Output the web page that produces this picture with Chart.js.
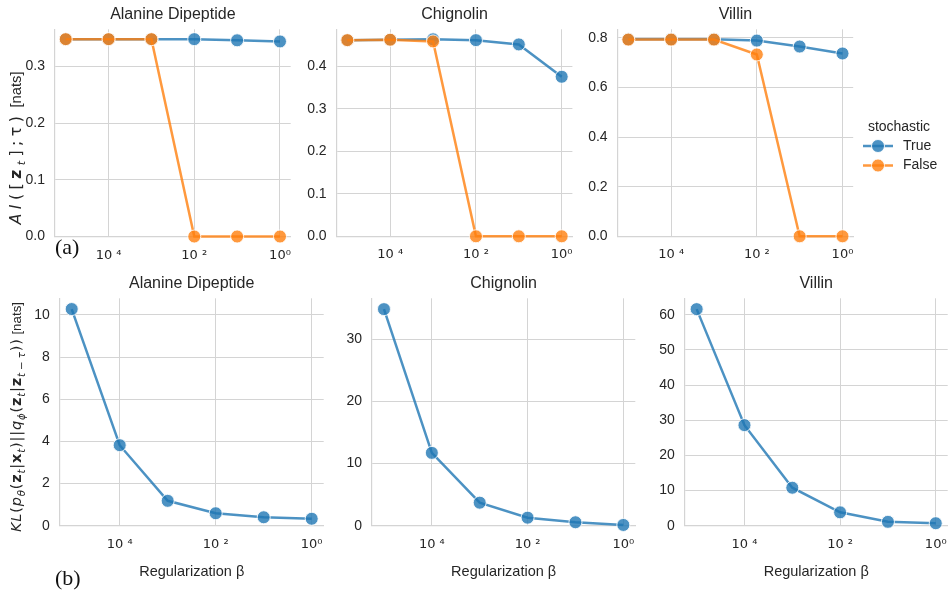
<!DOCTYPE html>
<html><head><meta charset="utf-8">
<script src="https://cdn.jsdelivr.net/npm/chart.js@4.4.1/dist/chart.umd.min.js"></script>
<style>
html,body{margin:0;padding:0;background:#fff;overflow:hidden;}
#wrap{position:relative;width:949px;height:592px;overflow:hidden;background:#fff;}
canvas{position:absolute;left:0;top:0;}
</style></head><body><div id="wrap">
<canvas id="c1" width="1049" height="592"></canvas>
<canvas id="c2" width="1049" height="592"></canvas>
<canvas id="c3" width="1049" height="592"></canvas>
<canvas id="c4" width="1049" height="592"></canvas>
<canvas id="c5" width="1049" height="592"></canvas>
<canvas id="c6" width="1049" height="592"></canvas>
</div>
<script>
// ---------------- data ----------------
const betas = [1e5, 1e4, 1e3, 1e2, 1e1, 1e0];
const xTickValues = [1e4, 1e2, 1e0];
const xTickLabels = ['10 \u2074', '10 \u00b2', '10\u2070'];
const panelTitles = ['Alanine Dipeptide', 'Chignolin', 'Villin'];
const legendTitle = 'stochastic';
const legendLabels = ['True', 'False'];
const xAxisTitle = 'Regularization \u03b2';

const alaTrue  = [0.348, 0.348, 0.348, 0.348, 0.346, 0.344];
const alaFalse = [0.348, 0.348, 0.348, 0.0, 0.0, 0.0];
const chiTrue  = [0.461, 0.462, 0.463, 0.461, 0.451, 0.375];
const chiFalse = [0.461, 0.462, 0.458, 0.0, 0.0, 0.0];
const vilTrue  = [0.794, 0.794, 0.794, 0.789, 0.765, 0.737];
const vilFalse = [0.793, 0.793, 0.793, 0.733, 0.0, 0.0];

const alaKL = [10.28, 3.82, 1.18, 0.59, 0.40, 0.33];
const chiKL = [34.8, 11.7, 3.7, 1.29, 0.55, 0.12];
const vilKL = [61.6, 28.6, 10.8, 3.8, 1.1, 0.7];

// ---------------- style ----------------
const BLUE = 'rgba(31,119,180,0.8)';
const ORANGE = 'rgba(255,127,14,0.8)';
const GRID = '#d4d4d4';
const TXT = '#262626';
const SANS = '"Liberation Sans", Arial, sans-serif';
const MATH = '"DejaVu Sans", sans-serif';
const W = 1049, H = 592;

function makeDataset(label, ys, color, order) {
  return {
    label, order,
    data: betas.map((b, i) => ({x: b, y: ys[i]})),
    borderColor: color, backgroundColor: color,
    pointBackgroundColor: color, pointBorderColor: 'rgba(255,255,255,0.85)',
    pointBorderWidth: 1, pointRadius: 6.5, borderWidth: 2.5,
    tension: 0, clip: false, yAxisID: 'y'
  };
}

function drawRich(ctx, segs, cx, cy, size, target) {
  ctx.save();
  ctx.translate(cx, cy);
  ctx.rotate(-Math.PI / 2);
  ctx.textBaseline = 'alphabetic';
  ctx.textAlign = 'left';
  ctx.fillStyle = TXT;
  const fontOf = s => {
    const sz = (s.sub ? size * 0.7 : size) * (s.n ? 0.92 : 1);
    const fam = s.n ? SANS : MATH;
    return (s.i ? 'italic ' : '') + (s.b ? 'bold ' : '') + sz + 'px ' + fam;
  };
  const widths = segs.map(s => { ctx.font = fontOf(s); return ctx.measureText(s.t).width; });
  const natural = widths.reduce((a, b) => a + b, 0);
  const gap = Math.max(0, (target - natural) / (segs.length - 1));
  let x = -(natural + gap * (segs.length - 1)) / 2;
  segs.forEach((s, i) => {
    ctx.font = fontOf(s);
    ctx.fillText(s.t, x, s.sub ? size * 0.25 : 0);
    x += widths[i] + gap;
  });
  ctx.restore();
}

const topLabel = [
  {t:'A', i:1}, {t:'I', i:1}, {t:'('}, {t:'['}, {t:'z', b:1}, {t:'t', i:1, sub:1},
  {t:']'}, {t:';'}, {t:'\u03c4'}, {t:')'}, {t:' [nats]', n:1}
];
const botLabel = [
  {t:'K', i:1}, {t:'L', i:1}, {t:'('}, {t:'p', i:1}, {t:'\u03b8', i:1, sub:1}, {t:'('},
  {t:'z', b:1}, {t:'t', i:1, sub:1}, {t:'|'}, {t:'x', b:1}, {t:'t', i:1, sub:1}, {t:')'},
  {t:'|'}, {t:'|'}, {t:'q', i:1}, {t:'\u03d5', i:1, sub:1}, {t:'('}, {t:'z', b:1},
  {t:'t', i:1, sub:1}, {t:'|'}, {t:'z', b:1}, {t:'t \u2212 \u03c4', i:1, sub:1},
  {t:')'}, {t:')'}, {t:' [nats]', n:1}
];

const extrasPlugin = {
  id: 'extras',
  afterDraw(chart, args, opts) {
    const ctx = chart.ctx;
    if (opts.ylabel) drawRich(ctx, opts.ylabel.segs, opts.ylabel.x, opts.ylabel.y, opts.ylabel.size, opts.ylabel.len);
    if (opts.tag) {
      ctx.save();
      ctx.font = '22px "Liberation Serif", "Times New Roman", serif';
      ctx.fillStyle = '#111';
      ctx.textBaseline = 'alphabetic';
      ctx.fillText(opts.tag.text, opts.tag.x, opts.tag.y);
      ctx.restore();
    }
    if (opts.legend) {
      ctx.save();
      ctx.fillStyle = TXT;
      ctx.font = '14px ' + SANS;
      ctx.textAlign = 'center';
      ctx.textBaseline = 'middle';
      ctx.fillText(legendTitle, 899, 127);
      legendLabels.forEach((lab, i) => {
        const d = chart.data.datasets.find(ds => ds.label === lab);
        const y = 146 + i * 19.5;
        ctx.strokeStyle = d.borderColor;
        ctx.lineWidth = 2.5;
        ctx.beginPath(); ctx.moveTo(863, y); ctx.lineTo(893, y); ctx.stroke();
        ctx.beginPath(); ctx.arc(878, y, 6.5, 0, Math.PI * 2);
        ctx.fillStyle = d.borderColor; ctx.fill();
        ctx.strokeStyle = 'rgba(255,255,255,0.85)'; ctx.lineWidth = 1; ctx.stroke();
        ctx.fillStyle = TXT;
        ctx.textAlign = 'left';
        ctx.fillText(lab, 903, y);
      });
      ctx.restore();
    }
  }
};

function makeChart(id, box, datasets, ycfg, title, bottomRow, extras) {
  const yw = 40;
  const xh = bottomRow ? 60 : 30;
  new Chart(document.getElementById(id), {
    type: 'line',
    data: {datasets},
    plugins: [extrasPlugin],
    options: {
      responsive: false, animation: false, events: [],
      layout: {padding: {left: box.L - yw, right: W - box.R - yw, top: box.T - 24.6, bottom: H - box.B - xh}},
      plugins: {
        legend: {display: false}, tooltip: {enabled: false},
        title: {display: true, text: title, color: TXT, font: {family: SANS, size: 16, weight: 'normal', lineHeight: 1.2}, padding: {top: 0, bottom: 5.4}},
        extras: extras
      },
      scales: {
        x: {
          type: 'logarithmic', reverse: true, min: Math.pow(10, -0.25), max: Math.pow(10, 5.25),
          afterBuildTicks: s => { s.ticks = xTickValues.map(v => ({value: v, major: true})); },
          afterFit: s => { s.height = xh; },
          grid: {color: GRID, lineWidth: 1, drawTicks: false},
          border: {display: true, color: GRID, width: 1.2},
          ticks: {autoSkip: false, maxRotation: 0, padding: 11, color: TXT,
                  font: {family: MATH, size: 13}, callback: (v, i) => xTickLabels[i]},
          title: {display: bottomRow, text: xAxisTitle, color: TXT, font: {family: SANS, size: 14.5}, padding: {top: 0, bottom: 5.5}}
        },
        y: {
          position: 'left', min: 0, max: ycfg.max,
          afterFit: s => { s.width = yw; },
          grid: {color: GRID, lineWidth: 1, drawTicks: false},
          border: {display: true, color: GRID, width: 1.2},
          ticks: {stepSize: ycfg.step, includeBounds: false, padding: 10, color: TXT,
                  font: {family: SANS, size: 14}, callback: v => v.toFixed(ycfg.dec)}
        },
        spacer: {
          type: 'linear', position: 'right', display: true,
          afterFit: s => { s.width = yw; },
          grid: {display: false, drawTicks: false}, border: {display: false},
          ticks: {display: false}
        }
      }
    }
  });
}

makeChart('c1', {L: 55, R: 290.7, T: 29.3, B: 236.5},
  [makeDataset('True', alaTrue, BLUE, 1), makeDataset('False', alaFalse, ORANGE, 0)],
  {max: 0.3654, step: 0.1, dec: 1}, panelTitles[0], false,
  {ylabel: {segs: topLabel, x: 21, y: 148, len: 153, size: 16}, tag: {text: '(a)', x: 55, y: 254}});
makeChart('c2', {L: 336.6, R: 572.4, T: 29.3, B: 236.3},
  [makeDataset('True', chiTrue, BLUE, 1), makeDataset('False', chiFalse, ORANGE, 0)],
  {max: 0.4865, step: 0.1, dec: 1}, panelTitles[1], false, {});
makeChart('c3', {L: 617.6, R: 853.2, T: 29.3, B: 236.3},
  [makeDataset('True', vilTrue, BLUE, 1), makeDataset('False', vilFalse, ORANGE, 0)],
  {max: 0.8345, step: 0.2, dec: 1}, panelTitles[2], false, {legend: true});
makeChart('c4', {L: 59.7, R: 323.7, T: 298.3, B: 525.7},
  [makeDataset('True', alaKL, BLUE, 0)],
  {max: 10.79, step: 2, dec: 0}, panelTitles[0], true,
  {ylabel: {segs: botLabel, x: 21, y: 417, len: 230, size: 14.5}, tag: {text: '(b)', x: 55, y: 585}});
makeChart('c5', {L: 372, R: 635.3, T: 298.3, B: 525.7},
  [makeDataset('True', chiKL, BLUE, 0)],
  {max: 36.54, step: 10, dec: 0}, panelTitles[1], true, {});
makeChart('c6', {L: 684.7, R: 947.7, T: 298.3, B: 525.7},
  [makeDataset('True', vilKL, BLUE, 0)],
  {max: 64.68, step: 10, dec: 0}, panelTitles[2], true, {});
</script>
</body></html>
